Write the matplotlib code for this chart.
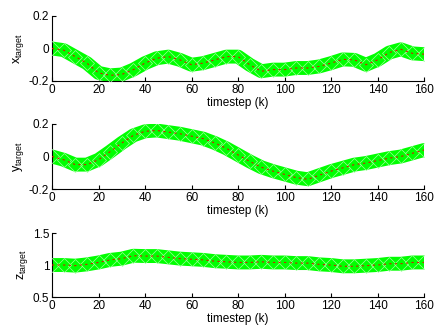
import numpy as np
import matplotlib
matplotlib.use('Agg')
import matplotlib.pyplot as plt

plt.rcParams['font.family'] = ['Liberation Sans', 'DejaVu Sans']
plt.rcParams['mathtext.fontset'] = 'custom'
plt.rcParams['mathtext.rm'] = 'Liberation Sans'

# timesteps (read every 5 steps)
k = [0, 5, 10, 15, 20, 25, 30, 35, 40, 45, 50, 55, 60, 65, 70, 75, 80,
     85, 90, 95, 100, 105, 110, 115, 120, 125, 130, 135, 140, 145, 150, 155, 160]

x_target = [0.0, -0.01, -0.05, -0.09, -0.15, -0.165, -0.16, -0.13, -0.09, -0.06, -0.05,
            -0.07, -0.10, -0.09, -0.07, -0.05, -0.05, -0.10, -0.14, -0.13, -0.13,
            -0.12, -0.12, -0.11, -0.09, -0.067, -0.07, -0.10, -0.07, -0.025, -0.005,
            -0.03, -0.035]

y_target = [0.0, -0.02, -0.05, -0.05, -0.02, 0.03, 0.083, 0.13, 0.155, 0.16, 0.15,
            0.14, 0.125, 0.11, 0.083, 0.05, 0.01, -0.03, -0.066, -0.09, -0.11,
            -0.13, -0.14, -0.115, -0.09, -0.07, -0.05, -0.04, -0.025, -0.01, 0.0,
            0.02, 0.04]

z_target = [1.0, 1.0, 0.99, 1.01, 1.04, 1.08, 1.10, 1.145, 1.14, 1.14, 1.12,
            1.10, 1.09, 1.08, 1.06, 1.05, 1.04, 1.04, 1.05, 1.04, 1.04,
            1.03, 1.03, 1.01, 1.0, 0.98, 0.98, 0.99, 1.0, 1.02, 1.02,
            1.04, 1.04]

panels = [
    (x_target, r'$\mathregular{x_{target}}$', [-0.2, 0, 0.2], ['-0.2', '0', '0.2'], (-0.2, 0.2)),
    (y_target, r'$\mathregular{y_{target}}$', [-0.2, 0, 0.2], ['-0.2', '0', '0.2'], (-0.2, 0.2)),
    (z_target, r'$\mathregular{z_{target}}$', [0.5, 1, 1.5], ['0.5', '1', '1.5'], (0.5, 1.5)),
]

fig = plt.figure(figsize=(4.35, 3.31), dpi=100)
boxes = [(0.7553, 0.9517), (0.429, 0.6254), (0.1027, 0.296)]
green = '#00ff00'

for (vals, lab, yt, ytl, ylim), (b, t) in zip(panels, boxes):
    ax = fig.add_axes([0.1195, b, 0.975 - 0.1195, t - b])
    # band of estimates
    ax.plot(k, vals, color=green, linewidth=10, solid_capstyle='round', zorder=2)
    ax.plot(k, vals, linestyle='none', marker='D', markersize=7,
            markerfacecolor='none', markeredgecolor='#9cff9c', markeredgewidth=0.5, zorder=3)
    # target trajectory
    ax.plot(k, vals, color='#d02000', linestyle='--', linewidth=0.8,
            dashes=(2, 3), zorder=4)
    ax.set_xlim(0, 160)
    ax.set_ylim(*ylim)
    ax.set_xticks(range(0, 161, 20))
    ax.set_yticks(yt)
    ax.set_yticklabels(ytl)
    ax.spines['top'].set_visible(False)
    ax.spines['right'].set_visible(False)
    ax.spines['left'].set_linewidth(0.8)
    ax.spines['bottom'].set_linewidth(0.8)
    ax.tick_params(direction='in', length=3, width=0.8, labelsize=8.5, pad=2)
    ax.set_xlabel('timestep (k)', fontsize=8.5, labelpad=1)
    ax.set_ylabel(lab, fontsize=9, labelpad=2)
    for sp in ax.spines.values():
        sp.set_clip_on(False)

fig.savefig('out.png', dpi=100)
